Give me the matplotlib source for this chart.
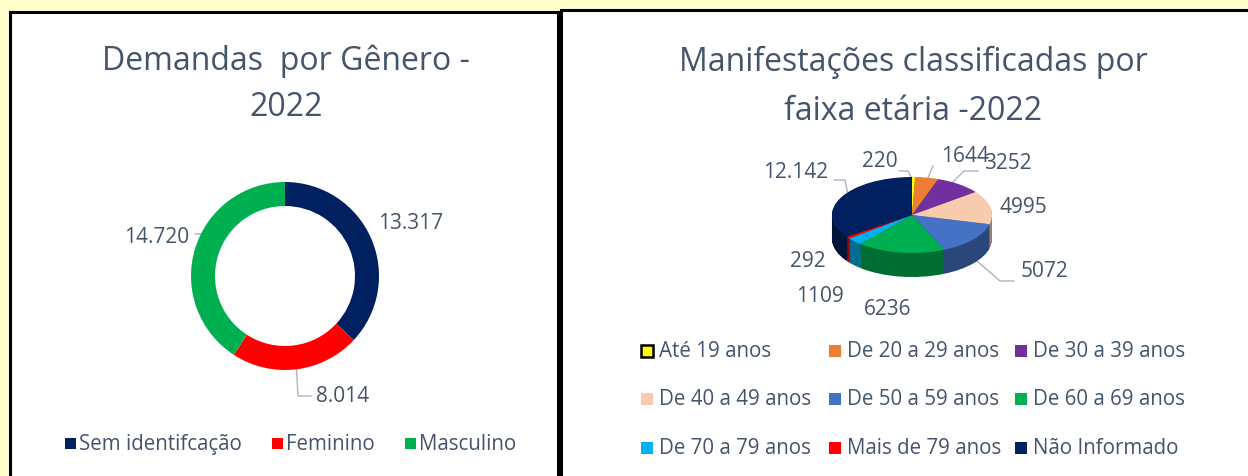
import matplotlib
matplotlib.use("Agg")
import matplotlib.pyplot as plt
from matplotlib.patches import Rectangle
import matplotlib.colors as mcolors
import numpy as np

W, H = 1248, 477
DPI = 100

# ---------------- data ----------------
gender_labels = ["Sem identifcação", "Feminino", "Masculino"]
gender_values = [13317, 8014, 14720]
gender_value_text = ["13.317", "8.014", "14.720"]
gender_colors = ["#002060", "#FF0000", "#00B050"]

age_labels = ["Até 19 anos", "De 20 a 29 anos", "De 30 a 39 anos",
              "De 40 a 49 anos", "De 50 a 59 anos", "De 60 a 69 anos",
              "De 70 a 79 anos", "Mais de 79 anos", "Não Informado"]
age_values = [220, 1644, 3252, 4995, 5072, 6236, 1109, 292, 12142]
age_value_text = ["220", "1644", "3252", "4995", "5072", "6236", "1109", "292", "12.142"]
age_colors = ["#FFFF00", "#ED7D31", "#7030A0", "#F8CBAD", "#4472C4",
              "#00B050", "#00B0F0", "#FF0000", "#002060"]

TXT = "#44546A"
LINE = "#A9B4C2"
FONT = ["Open Sans", "DejaVu Sans"]
plt.rcParams["font.family"] = FONT

fig = plt.figure(figsize=(W / DPI, H / DPI), dpi=DPI, facecolor="#FFFFCC")


def frac_rect(x0, y0, x1, y1):
    return [x0 / W, 1 - y1 / H, (x1 - x0) / W, (y1 - y0) / H]


# overlay axes in pixel coordinates (origin top-left)
ov = fig.add_axes([0, 0, 1, 1])
ov.set_xlim(0, W)
ov.set_ylim(H, 0)
ov.axis("off")

# panels
ov.add_patch(Rectangle((10, 13), 548, 500, facecolor="white", edgecolor="black", lw=2.2, zorder=0))
ov.add_patch(Rectangle((561, 11), 720, 500, facecolor="white", edgecolor="black", lw=2.2, zorder=0))

# titles
TFS = 23
ov.text(286, 70, "Demandas  por Gênero -", ha="center", va="baseline", fontsize=TFS, color=TXT)
ov.text(286, 116, "2022", ha="center", va="baseline", fontsize=TFS, color=TXT)
ov.text(913, 71, "Manifestações classificadas por", ha="center", va="baseline", fontsize=TFS, color=TXT)
ov.text(913, 120, "faixa etária -2022", ha="center", va="baseline", fontsize=TFS, color=TXT)

# ---------------- donut ----------------
dcx, dcy, dr = 285, 277, 100
dax = fig.add_axes(frac_rect(dcx - dr, dcy - dr, dcx + dr, dcy + dr))
dax.set_facecolor("none")
dax.pie(gender_values, colors=gender_colors, startangle=90, counterclock=False,
        radius=94, wedgeprops=dict(width=24, linewidth=0))
dax.set_aspect("auto")
dax.set_xlim(-dr, dr)
dax.set_ylim(-dr, dr)
dax.axis("off")

# donut labels + leader lines
ov.text(378, 224, gender_value_text[0], ha="left", va="center", fontsize=15, color=TXT)
ov.text(316, 397, gender_value_text[1], ha="left", va="center", fontsize=15, color=TXT)
ov.text(189, 238, gender_value_text[2], ha="right", va="center", fontsize=15, color=TXT)
ov.plot([296, 298, 311], [362, 397, 397], color=LINE, lw=1)
ov.plot([195, 206, 208], [235, 235, 252], color=LINE, lw=1)

# donut legend
leg_y = 445
for x0, lab, col in zip([65, 272, 405], gender_labels, gender_colors):
    ov.add_patch(Rectangle((x0, leg_y - 6), 11, 11, facecolor=col, edgecolor="none"))
    ov.text(x0 + 14, leg_y, lab, ha="left", va="center", fontsize=14.8, color=TXT)

# ---------------- 3D pie ----------------
pcx, pcy = 912, 216      # centre of top face (pixels)
rx, ry = 80, 38          # ellipse radii (pixels)
depth = 24               # side depth (pixels)
ax_x0, ax_x1 = 820, 1004
ax_y0, ax_y1 = 170, 300
pax = fig.add_axes(frac_rect(ax_x0, ax_y0, ax_x1, ax_y1))
pax.set_facecolor("none")


def darker(c, f):
    r, g, b = mcolors.to_rgb(c)
    return (r * f, g * f, b * f)


nlayers = 30
dy = depth / ry
for k in range(nlayers, 0, -1):
    side_cols = [darker(c, 0.62) for c in age_colors]
    pax.pie(age_values, colors=side_cols, startangle=90, counterclock=False,
            radius=1, center=(0, -dy * k / nlayers), wedgeprops=dict(linewidth=0))
pax.pie(age_values, colors=age_colors, startangle=90, counterclock=False,
        radius=1, center=(0, 0), wedgeprops=dict(linewidth=0))
pax.set_aspect("auto")
pax.set_xlim((ax_x0 - pcx) / rx, (ax_x1 - pcx) / rx)
pax.set_ylim(-(ax_y1 - pcy) / ry, (pcy - ax_y0) / ry)
pax.axis("off")

# pie labels
pie_label_pos = [(880, 162), (965, 157), (1008, 164), (1023, 208), (1045, 272),
                 (888, 310), (820, 297), (808, 262), (796, 173)]
for (x, y), t in zip(pie_label_pos, age_value_text):
    ov.text(x, y, t, ha="center", va="center", fontsize=15, color=TXT)

ov.plot([834, 845, 848], [181, 181, 196], color=LINE, lw=1)
ov.plot([899, 908, 912], [172, 172, 180], color=LINE, lw=1)
ov.plot([927, 933], [181, 167], color=LINE, lw=1)
ov.plot([952, 964, 978], [184, 172, 172], color=LINE, lw=1)
ov.plot([977, 1000, 1014], [262, 282, 282], color=LINE, lw=1)

# pie legend
col_x = [641, 829, 1015]
row_y = [352, 400, 449]
for i, (lab, col) in enumerate(zip(age_labels, age_colors)):
    x0 = col_x[i % 3]
    y0 = row_y[i // 3]
    if i == 0:
        ov.add_patch(Rectangle((x0, y0 - 6), 12, 12, facecolor=col, edgecolor="black", lw=1.8))
    else:
        ov.add_patch(Rectangle((x0, y0 - 6), 12, 12, facecolor=col, edgecolor="none"))
    ov.text(x0 + 18, y0, lab, ha="left", va="center", fontsize=14.8, color=TXT)

fig.savefig("out.png", dpi=DPI, facecolor=fig.get_facecolor())
